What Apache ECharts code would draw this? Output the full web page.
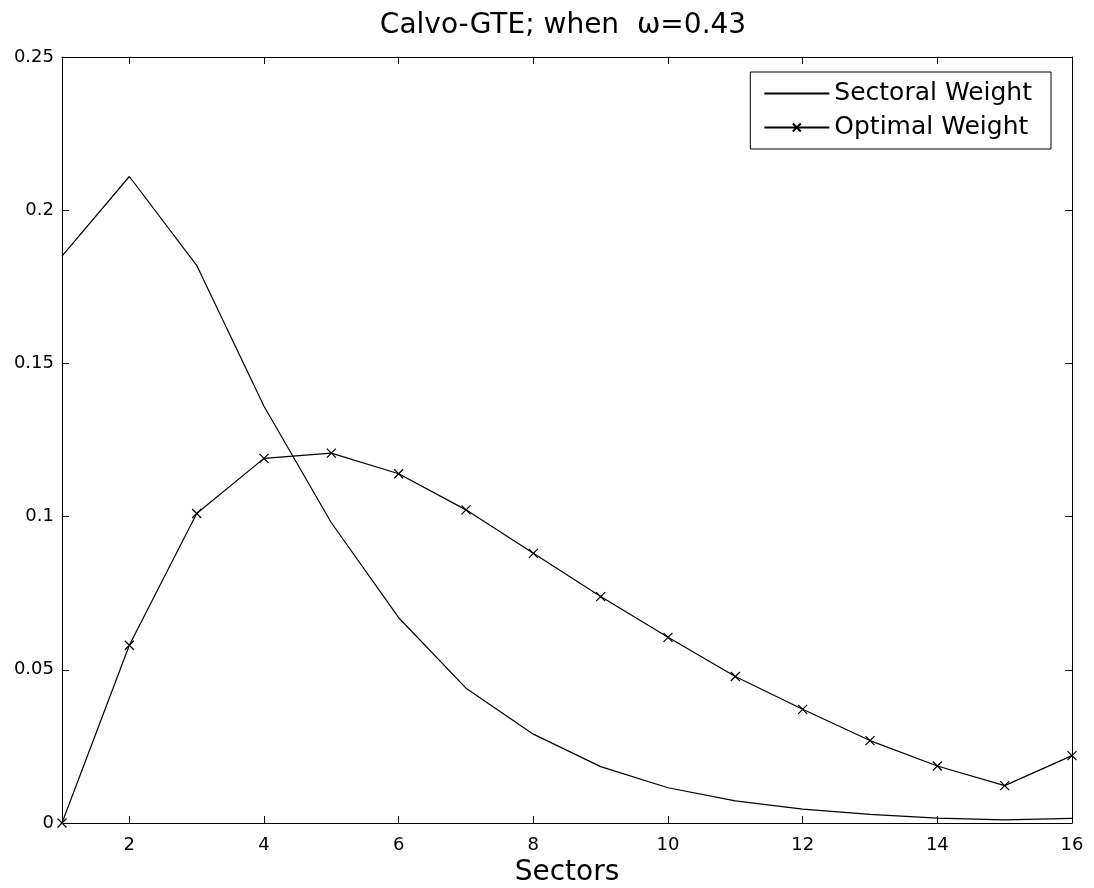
<!DOCTYPE html>
<html>
<head>
<meta charset="utf-8">
<script src="https://cdn.jsdelivr.net/npm/echarts@6/dist/echarts.min.js"></script>
<style>
html,body{margin:0;padding:0;background:#fff;}
#chart{width:1094px;height:888px;}
</style>
</head>
<body>
<div id="chart"></div>
<script>
const sectors = [1,2,3,4,5,6,7,8,9,10,11,12,13,14,15,16];
const sectoralWeight = [0.185, 0.211, 0.182, 0.136, 0.098, 0.067, 0.044, 0.029, 0.0184, 0.0115, 0.0072, 0.0045, 0.0028, 0.0016, 0.0010, 0.0015];
const optimalWeight = [0.000, 0.058, 0.101, 0.119, 0.1207, 0.114, 0.1022, 0.088, 0.0739, 0.0606, 0.0478, 0.0371, 0.0269, 0.0186, 0.0122, 0.022];
const xTicks = [2,4,6,8,10,12,14,16];
const yTicks = [0,0.05,0.1,0.15,0.2,0.25];
const titleText = 'Calvo-GTE; when  \u03c9=0.43';
const xName = 'Sectors';
const seriesNames = ['Sectoral Weight','Optimal Weight'];

const FONT = 'DejaVu Sans';
const chart = echarts.init(document.getElementById('chart'), null, {renderer:'canvas'});

const axisBase = {
  axisLine:{show:true, onZero:false, lineStyle:{color:'#000', width:1}},
  axisTick:{show:true, inside:true, length:7, lineStyle:{color:'#000', width:1}},
  splitLine:{show:false}
};

chart.setOption({
  animation:false,
  backgroundColor:'#fff',
  title:{
    text:titleText, left:558, top:7, textAlign:'center',
    textStyle:{fontFamily:FONT, fontSize:28, fontWeight:'normal', color:'#000'}
  },
  legend:{
    orient:'vertical', right:43, top:72,
    data:[
      {name:seriesNames[0], itemStyle:{opacity:0}},
      {name:seriesNames[1]}
    ],
    itemWidth:65, itemHeight:10, itemGap:9,
    padding:[9,19,9,13],
    borderColor:'#000', borderWidth:1, backgroundColor:'#fff',
    textStyle:{fontFamily:FONT, fontSize:25, color:'#000'}
  },
  grid:{left:62, right:22, top:57, bottom:65, containLabel:false, outerBoundsMode:'none'},
  xAxis:[
    Object.assign({}, axisBase, {
      type:'value', min:1, max:16, position:'bottom',
      name:xName, nameLocation:'middle', nameGap:33,
      nameTextStyle:{fontFamily:FONT, fontSize:28, color:'#000'},
      axisTick:Object.assign({}, axisBase.axisTick, {customValues:xTicks}),
      axisLabel:{customValues:xTicks, fontFamily:FONT, fontSize:18, color:'#000', margin:13}
    }),
    Object.assign({}, axisBase, {
      type:'value', min:1, max:16, position:'top',
      axisTick:Object.assign({}, axisBase.axisTick, {customValues:xTicks}),
      axisLabel:{show:false}
    })
  ],
  yAxis:[
    Object.assign({}, axisBase, {
      type:'value', min:0, max:0.25, interval:0.05, position:'left',
      axisLabel:{fontFamily:FONT, fontSize:18, color:'#000', margin:8,
        formatter:function(v){return String(+v.toFixed(2));}}
    }),
    Object.assign({}, axisBase, {
      type:'value', min:0, max:0.25, interval:0.05, position:'right',
      axisLabel:{show:false}
    })
  ],
  series:[
    {
      name:seriesNames[0], type:'line',
      data:sectors.map((s,i)=>[s, sectoralWeight[i]]),
      symbol:'none', showSymbol:false,
      lineStyle:{color:'#000', width:1.2},
      itemStyle:{color:'#000'},
      clip:false
    },
    {
      name:seriesNames[1], type:'line',
      data:sectors.map((s,i)=>[s, optimalWeight[i]]),
      symbol:'path://M0,0L10,10M10,0L0,10', symbolSize:9, showSymbol:true,
      lineStyle:{color:'#000', width:1.2},
      itemStyle:{color:'#000', borderColor:'#000', borderWidth:1.2},
      clip:false
    }
  ]
});
</script>
</body>
</html>
